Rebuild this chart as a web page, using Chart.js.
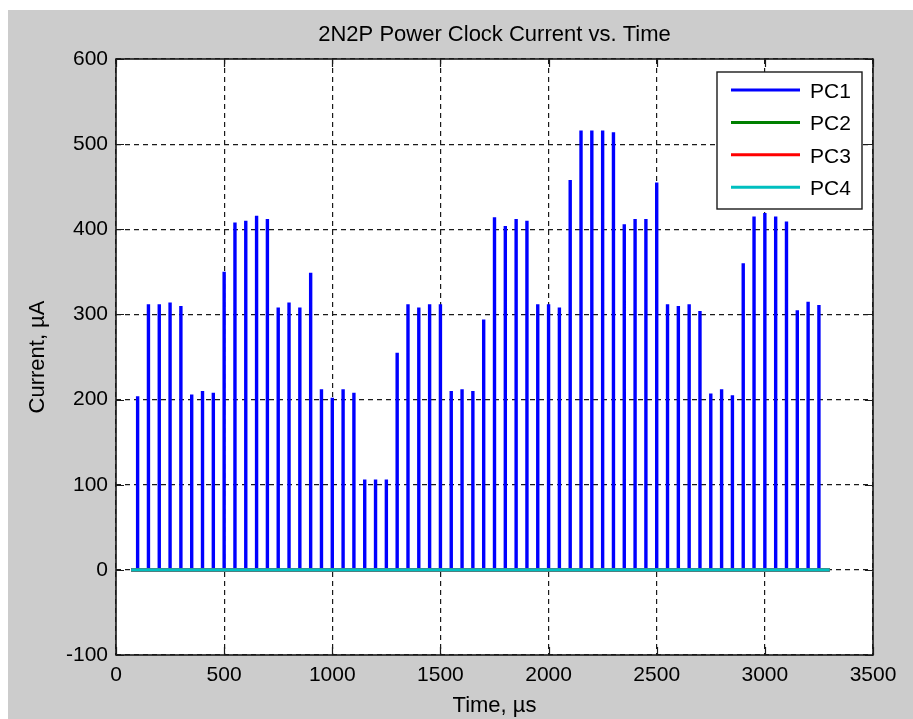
<!DOCTYPE html>
<html>
<head>
<meta charset="utf-8">
<title>2N2P Power Clock Current vs. Time</title>
<script src="https://cdn.jsdelivr.net/npm/chart.js@4.4.1/dist/chart.umd.min.js"></script>
<style>
  html, body { margin: 0; padding: 0; background: #fff; }
  canvas { display: block; }
</style>
</head>
<body>
<canvas id="myChart" width="913" height="719"></canvas>
<script>
// pulse times (us) and PC1 peak currents (uA)
const timeUs = [
  100, 150, 200, 250, 300, 350, 400, 450, 500, 550,
  600, 650, 700, 750, 800, 850, 900, 950, 1000, 1050,
  1100, 1150, 1200, 1250, 1300, 1350, 1400, 1450, 1500, 1550,
  1600, 1650, 1700, 1750, 1800, 1850, 1900, 1950, 2000, 2050,
  2100, 2150, 2200, 2250, 2300, 2350, 2400, 2450, 2500, 2550,
  2600, 2650, 2700, 2750, 2800, 2850, 2900, 2950, 3000, 3050,
  3100, 3150, 3200, 3250
];
const pc1Peak = [
  204, 312, 312, 314, 310, 206, 210, 208, 350, 408,
  410, 416, 412, 308, 314, 308, 349, 212, 202, 212,
  208, 106, 106, 106, 255, 312, 308, 312, 312, 210,
  212, 210, 294, 414, 404, 412, 410, 312, 312, 308,
  458, 516, 516, 516, 514, 406, 412, 412, 455, 312,
  310, 312, 304, 207, 212, 205, 360, 415, 419, 415,
  409, 305, 315, 311
];
// the other clocks stay flat over the whole run
const traceSpan = [70, 3300];
const pc2Current = [0, 0];
const pc3Current = [0, 0];
const pc4Current = [0, 0];

const xTicks = [0, 500, 1000, 1500, 2000, 2500, 3000, 3500];
const yTicks = [-100, 0, 100, 200, 300, 400, 500, 600];

const fontFamily = '"Liberation Sans", Arial, sans-serif';
Chart.defaults.font.family = fontFamily;
Chart.defaults.color = "#000";

// each pulse goes up from zero and straight back down
const pc1Points = [{ x: traceSpan[0], y: 0 }];
timeUs.forEach((t, i) => {
  pc1Points.push({ x: t, y: 0 }, { x: t, y: pc1Peak[i] }, { x: t, y: 0 });
});
pc1Points.push({ x: traceSpan[1], y: 0 });

const flat = (vals) => traceSpan.map((t, i) => ({ x: t, y: vals[i] }));

const lineStyle = {
  borderWidth: 3.4,
  pointRadius: 0,
  tension: 0,
  fill: false,
  borderCapStyle: "butt",
  borderJoinStyle: "bevel",
};

// gray figure, white axes, inside ticks, box and legend like matlab
const matlabFrame = {
  id: "matlabFrame",
  beforeDraw(chart) {
    const { ctx, chartArea: a } = chart;
    ctx.save();
    ctx.fillStyle = "#ffffff";
    ctx.fillRect(0, 0, chart.width, chart.height);
    ctx.fillStyle = "#cccccc";
    ctx.fillRect(8, 10, chart.width - 8, chart.height - 10);
    ctx.fillStyle = "#ffffff";
    ctx.fillRect(a.left, a.top, a.right - a.left, a.bottom - a.top);
    ctx.restore();
  },
  afterDatasetsDraw(chart) {
    const { ctx, chartArea: a, scales } = chart;
    const tick = 8;
    ctx.save();
    ctx.strokeStyle = "#1a1a1a";
    ctx.lineWidth = 1.2;
    ctx.beginPath();
    xTicks.forEach((v) => {
      const px = Math.round(scales.x.getPixelForValue(v)) + 0.5;
      ctx.moveTo(px, a.bottom);
      ctx.lineTo(px, a.bottom - tick);
      ctx.moveTo(px, a.top);
      ctx.lineTo(px, a.top + tick);
    });
    yTicks.forEach((v) => {
      const py = Math.round(scales.y.getPixelForValue(v)) + 0.5;
      ctx.moveTo(a.left, py);
      ctx.lineTo(a.left + tick, py);
      ctx.moveTo(a.right, py);
      ctx.lineTo(a.right - tick, py);
    });
    ctx.stroke();
    ctx.lineWidth = 1.6;
    ctx.strokeRect(a.left, a.top, a.right - a.left, a.bottom - a.top);

    // legend
    const lx = a.right - 156, ly = a.top + 13, lw = 145, lh = 137;
    ctx.fillStyle = "#ffffff";
    ctx.fillRect(lx, ly, lw, lh);
    ctx.lineWidth = 1.4;
    ctx.strokeStyle = "#1a1a1a";
    ctx.strokeRect(lx, ly, lw, lh);
    ctx.font = "21px " + fontFamily;
    ctx.textBaseline = "middle";
    ctx.textAlign = "left";
    chart.data.datasets.forEach((ds, i) => {
      const yy = ly + 18 + i * 32.4;
      ctx.strokeStyle = ds.borderColor;
      ctx.lineWidth = 3;
      ctx.beginPath();
      ctx.moveTo(lx + 14, yy);
      ctx.lineTo(lx + 83, yy);
      ctx.stroke();
      ctx.fillStyle = "#000";
      ctx.fillText(ds.label, lx + 93, yy + 2);
    });
    ctx.restore();
  },
};

const plainTick = (v) => String(v);

const ctx = document.getElementById("myChart").getContext("2d");
const myChart = new Chart(ctx, {
  type: "line",
  data: {
    datasets: [
      { label: "PC1", data: pc1Points, borderColor: "#0000ff", order: 4, ...lineStyle },
      { label: "PC2", data: flat(pc2Current), borderColor: "#008000", order: 3, ...lineStyle },
      { label: "PC3", data: flat(pc3Current), borderColor: "#ff0000", order: 2, ...lineStyle },
      { label: "PC4", data: flat(pc4Current), borderColor: "#00bfbf", order: 1, ...lineStyle },
    ],
  },
  options: {
    responsive: false,
    animation: false,
    devicePixelRatio: 1,
    layout: { padding: { left: 0, right: 40, top: 0, bottom: 0 } },
    plugins: {
      legend: { display: false },
      tooltip: { enabled: false },
      title: {
        display: true,
        fullSize: false,
        text: "2N2P Power Clock Current vs. Time",
        color: "#000",
        font: { size: 22, weight: "normal" },
        padding: { top: 22, bottom: 10.6 },
      },
    },
    scales: {
      x: {
        type: "linear",
        min: 0,
        max: 3500,
        afterBuildTicks: (s) => { s.ticks = xTicks.map((v) => ({ value: v })); },
        afterFit: (s) => { s.height = 64; },
        grid: { color: "#1a1a1a", lineWidth: 1.2, drawTicks: false },
        border: { display: false, dash: [5, 4] },
        ticks: { font: { size: 21 }, padding: 8, maxRotation: 0, color: "#000", callback: plainTick },
        title: { display: true, text: "Time, µs", font: { size: 22 }, padding: { top: 0, bottom: 0 } },
      },
      y: {
        type: "linear",
        min: -100,
        max: 600,
        afterBuildTicks: (s) => { s.ticks = yTicks.map((v) => ({ value: v })); },
        afterFit: (s) => { s.width = 116; },
        grid: { color: "#1a1a1a", lineWidth: 1.2, drawTicks: false },
        border: { display: false, dash: [5, 4] },
        ticks: { font: { size: 21 }, padding: 8, color: "#000", callback: plainTick },
        title: { display: true, text: "Current, µA", font: { size: 22 }, padding: { top: 25, bottom: 0 } },
      },
    },
  },
  plugins: [matlabFrame],
});
</script>
</body>
</html>
